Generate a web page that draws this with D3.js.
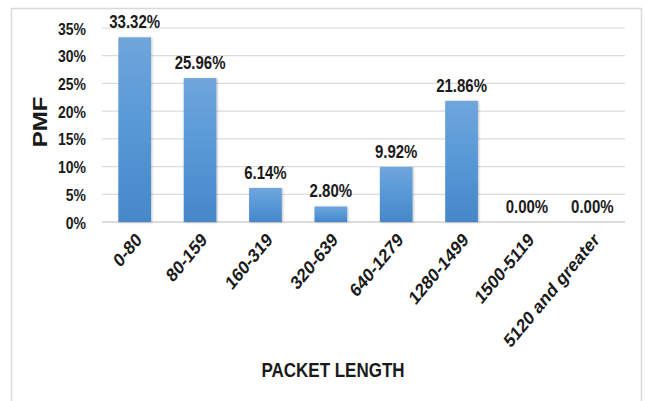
<!DOCTYPE html>
<html>
<head>
<meta charset="utf-8">
<script src="https://cdn.jsdelivr.net/npm/d3@7"></script>
<style>
  html, body { margin: 0; padding: 0; background: #fff; }
  text { font-family: "Liberation Sans", Arial, sans-serif; font-weight: bold; fill: #1a1a1a; }
</style>
</head>
<body>
<svg id="chart" width="646" height="401"></svg>
<script>
// Packet length distribution (probability mass per size range)
const categories = ["0-80", "80-159", "160-319", "320-639", "640-1279", "1280-1499", "1500-5119", "5120 and greater"];
const pmfValues = [33.32, 25.96, 6.14, 2.80, 9.92, 21.86, 0.00, 0.00];
const yTicks = [0, 5, 10, 15, 20, 25, 30, 35];

// glyphs are drawn slightly taller than wide
const STRETCH = 1.2;

const svg = d3.select("#chart");
const margin = { left: 102, right: 21, top: 28, bottom: 179 };
const W = 646, H = 401;
const innerW = W - margin.left - margin.right;
const innerH = H - margin.top - margin.bottom;

// chart area frame
svg.append("rect")
  .attr("x", 11.5).attr("y", 8.5)
  .attr("width", 630).attr("height", 400)
  .attr("fill", "#fff").attr("stroke", "#d9d9d9").attr("stroke-width", 1.5);

const defs = svg.append("defs");
const grad = defs.append("linearGradient").attr("id", "barGrad")
  .attr("x1", 0).attr("y1", 0).attr("x2", 0).attr("y2", 1);
grad.append("stop").attr("offset", "0%").attr("stop-color", "#6fa6dc");
grad.append("stop").attr("offset", "45%").attr("stop-color", "#5999d7");
grad.append("stop").attr("offset", "100%").attr("stop-color", "#4687c9");

const shadow = defs.append("filter").attr("id", "barShadow")
  .attr("x", "-20%").attr("y", "-5%").attr("width", "140%").attr("height", "115%");
shadow.append("feDropShadow").attr("dx", 1).attr("dy", 0.5).attr("stdDeviation", 1)
  .attr("flood-color", "#000").attr("flood-opacity", 0.25);

const g = svg.append("g").attr("transform", `translate(${margin.left},${margin.top})`);

const x = d3.scaleBand().domain(categories).range([0, innerW]).paddingInner(0.5).paddingOuter(0.25);
const y = d3.scaleLinear().domain([0, 35]).range([innerH, 0]);

// horizontal gridlines
g.append("g")
  .selectAll("line").data(yTicks).join("line")
  .attr("x1", 0).attr("x2", innerW)
  .attr("y1", d => y(d)).attr("y2", d => y(d))
  .attr("stroke", d => d === 0 ? "#d0d0d0" : "#dcdcdc").attr("stroke-width", d => d === 0 ? 1.5 : 1.2);

// y axis labels
const yAxis = d3.axisLeft(y).tickValues(yTicks).tickFormat(d => d + "%").tickSize(0).tickPadding(0);
const yg = g.append("g").call(yAxis);
yg.select(".domain").remove();
yg.selectAll("text")
  .style("font-size", "14px").style("font-family", null)
  .attr("x", null).attr("dy", null)
  .attr("transform", `translate(-16,0) scale(1,${STRETCH}) translate(0,5)`);

// bars
g.append("g")
  .selectAll("rect").data(pmfValues).join("rect")
  .attr("x", (d, i) => x(categories[i]))
  .attr("width", x.bandwidth())
  .attr("y", d => y(d))
  .attr("height", d => innerH - y(d))
  .attr("fill", "url(#barGrad)")
  .attr("filter", "url(#barShadow)");

// value labels
g.append("g")
  .selectAll("text").data(pmfValues).join("text")
  .attr("transform", (d, i) => `translate(${x(categories[i]) + x.bandwidth() / 2},${y(d) - 9}) scale(1,${STRETCH})`)
  .attr("text-anchor", "middle")
  .style("font-size", "15px")
  .text(d => d.toFixed(2) + "%");

// x axis labels, rotated
const xAxis = d3.axisBottom(x).tickSize(0).tickPadding(0);
const xg = g.append("g").attr("transform", `translate(0,${innerH})`).call(xAxis);
xg.select(".domain").remove();
xg.selectAll("text")
  .style("font-size", "16px").style("font-family", null)
  .attr("text-anchor", "end")
  .attr("y", null).attr("dy", null)
  .attr("transform", `translate(8,19) scale(1,${STRETCH}) rotate(-45)`);

// axis titles
svg.append("text")
  .attr("transform", `translate(47,122) scale(1,${STRETCH}) rotate(-90)`)
  .attr("text-anchor", "middle")
  .style("font-size", "20px")
  .text("PMF");

svg.append("text")
  .attr("transform", `translate(333,377) scale(1,${STRETCH})`)
  .attr("text-anchor", "middle")
  .style("font-size", "17px")
  .text("PACKET LENGTH");
</script>
</body>
</html>
